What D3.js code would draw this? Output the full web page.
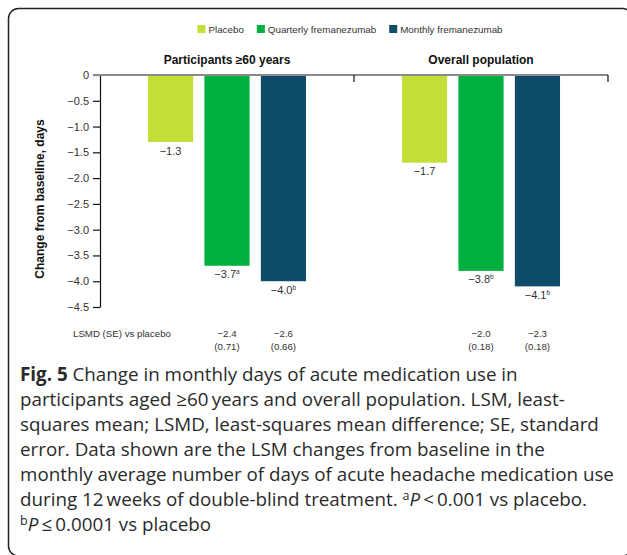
<!DOCTYPE html>
<html>
<head>
<meta charset="utf-8">
<script src="https://cdn.jsdelivr.net/npm/d3@7"></script>
<style>
  body { margin: 0; background: #fff; }
  svg { display: block; }
</style>
</head>
<body>
<svg id="chart" width="627" height="555"></svg>
<script>
// data
const groups = ["Participants \u226560 years", "Overall population"];
const series = ["Placebo", "Quarterly fremanezumab", "Monthly fremanezumab"];
const colors = ["#c3de36", "#00b03f", "#0e4c6a"];
const values = [
  [-1.3, -3.7, -4.0],
  [-1.7, -3.8, -4.1]
];
const sigMarks = [
  ["", "a", "b"],
  ["", "b", "b"]
];
const lsmdValues = [
  [null, -2.4, -2.6],
  [null, -2.0, -2.3]
];
const lsmdSE = [
  [null, 0.71, 0.66],
  [null, 0.18, 0.18]
];
const yTicks = [0, -0.5, -1.0, -1.5, -2.0, -2.5, -3.0, -3.5, -4.0, -4.5];

const svg = d3.select("#chart");
const axisFont = "Liberation Sans, Arial, sans-serif";
const capFont = "Open Sans, sans-serif";
const textColor = "#333";

const plotLeft = 100, plotRight = 608, plotTop = 75, plotBottom = 307;

const x0 = d3.scaleBand().domain(groups).range([plotLeft, plotRight]);
const x1 = d3.scaleBand().domain(series).range([0, x0.bandwidth()])
  .paddingInner(0.2).paddingOuter(0.85);
const y = d3.scaleLinear().domain([0, -4.5]).range([plotTop, plotBottom]);

const fmt = d3.format(".1f");

// frame
svg.append("rect")
  .attr("x", 8.5).attr("y", 8.5)
  .attr("width", 624).attr("height", 547.5)
  .attr("rx", 10)
  .attr("fill", "none")
  .attr("stroke", "#222")
  .attr("stroke-width", 1.5);

// legend
const legend = svg.append("g").attr("font-family", axisFont).attr("font-size", "9.8px");
let lx = 0;
series.forEach((s, i) => {
  const g = legend.append("g");
  g.append("rect").attr("width", 8).attr("height", 8).attr("y", -7.5).attr("fill", colors[i]);
  const t = g.append("text").attr("x", 11).attr("fill", textColor).text(s);
  const w = 11 + t.node().getComputedTextLength();
  g.attr("transform", `translate(${lx},0)`);
  lx += w + 13;
});
legend.attr("transform", `translate(${350 - (lx - 13) / 2},32.5)`);

// panel titles
svg.selectAll(".ptitle")
  .data(groups)
  .join("text")
  .attr("class", "ptitle")
  .attr("x", d => x0(d) + x0.bandwidth() / 2)
  .attr("y", 64)
  .attr("text-anchor", "middle")
  .attr("font-family", axisFont)
  .attr("font-weight", "bold")
  .attr("font-size", "12px")
  .attr("fill", "#111")
  .text(d => d);

// bars
const gGroups = svg.selectAll(".grp")
  .data(groups)
  .join("g")
  .attr("class", "grp")
  .attr("transform", d => `translate(${x0(d)},0)`);

gGroups.selectAll("rect")
  .data((g, gi) => series.map((s, si) => ({ s, si, v: values[gi][si] })))
  .join("rect")
  .attr("x", d => x1(d.s))
  .attr("y", y(0))
  .attr("width", x1.bandwidth())
  .attr("height", d => y(d.v) - y(0))
  .attr("fill", d => colors[d.si]);

// value labels
const vLabels = gGroups.selectAll(".val")
  .data((g, gi) => series.map((s, si) => ({ s, v: values[gi][si], m: sigMarks[gi][si] })))
  .join("text")
  .attr("class", "val")
  .attr("x", d => x1(d.s) + x1.bandwidth() / 2)
  .attr("y", d => y(d.v) + 12.5)
  .attr("text-anchor", "middle")
  .attr("font-family", axisFont)
  .attr("font-size", "11px")
  .attr("fill", textColor);
vLabels.append("tspan").text(d => fmt(d.v));
vLabels.filter(d => d.m).append("tspan")
  .attr("font-size", "6.5px")
  .attr("dy", -4)
  .text(d => d.m);

// LSMD row
svg.append("text")
  .attr("x", 73).attr("y", 337)
  .attr("font-family", axisFont)
  .attr("font-size", "9.7px")
  .attr("fill", textColor)
  .text("LSMD (SE) vs placebo");

const lsmdRows = gGroups.selectAll(".lsmd")
  .data((g, gi) => series.map((s, si) => ({ s, v: lsmdValues[gi][si], se: lsmdSE[gi][si] }))
    .filter(d => d.v !== null))
  .join("text")
  .attr("class", "lsmd")
  .attr("text-anchor", "middle")
  .attr("font-family", axisFont)
  .attr("font-size", "9.7px")
  .attr("fill", textColor);
lsmdRows.append("tspan")
  .attr("x", d => x1(d.s) + x1.bandwidth() / 2)
  .attr("y", 337)
  .text(d => fmt(d.v));
lsmdRows.append("tspan")
  .attr("x", d => x1(d.s) + x1.bandwidth() / 2)
  .attr("y", 350)
  .text(d => `(${d.se.toFixed(2)})`);

// y axis
const yAxis = svg.append("g")
  .attr("transform", `translate(${plotLeft},0)`)
  .call(d3.axisLeft(y).tickValues(yTicks).tickSize(7).tickSizeOuter(0).tickPadding(4)
    .tickFormat(d => d === 0 ? "0" : fmt(d)));
yAxis.select(".domain").attr("stroke", "#111").attr("stroke-width", 1.2);
yAxis.selectAll(".tick line").attr("stroke", "#111").attr("stroke-width", 1.2);
yAxis.selectAll(".tick text")
  .attr("font-family", axisFont)
  .attr("font-size", "11px")
  .attr("fill", textColor);

// top category axis (gray zero line with group boundary ticks)
svg.append("line")
  .attr("x1", plotLeft - 7).attr("x2", plotRight)
  .attr("y1", plotTop).attr("y2", plotTop)
  .attr("stroke", "#8a8a8a")
  .attr("stroke-width", 2);
svg.selectAll(".gtick")
  .data(groups)
  .join("line")
  .attr("class", "gtick")
  .attr("x1", d => x0(d) + x0.bandwidth()).attr("x2", d => x0(d) + x0.bandwidth())
  .attr("y1", plotTop).attr("y2", plotTop + 7)
  .attr("stroke", "#111")
  .attr("stroke-width", 1.2);

// y axis title
svg.append("text")
  .attr("transform", "translate(44,199) rotate(-90)")
  .attr("text-anchor", "middle")
  .attr("font-family", axisFont)
  .attr("font-weight", "bold")
  .attr("font-size", "12px")
  .attr("fill", "#111")
  .text("Change from baseline, days");

// caption
const capLines = [
  [{ t: "Fig. 5", b: true }, { t: " Change in monthly days of acute medication use in" }],
  [{ t: "participants aged \u226560\u2009years and overall population. LSM, least-" }],
  [{ t: "squares mean; LSMD, least-squares mean difference; SE, standard" }],
  [{ t: "error. Data shown are the LSM changes from baseline in the" }],
  [{ t: "monthly average number of days of acute headache medication use" }],
  [{ t: "during 12\u2009weeks of double-blind treatment. " }, { t: "a", sup: true }, { t: "P", i: true }, { t: "\u2009<\u20090.001 vs placebo." }],
  [{ t: "b", sup: true }, { t: "P", i: true }, { t: "\u2009\u2264\u20090.0001 vs placebo" }]
];
const caption = svg.append("g")
  .attr("font-family", capFont)
  .attr("font-size", "18.8px")
  .attr("fill", "#2a2a2a");
capLines.forEach((line, li) => {
  const t = caption.append("text").attr("x", 20).attr("y", 381 + li * 25);
  line.forEach(p => {
    const sp = t.append("tspan").text(p.t);
    if (p.b) sp.attr("font-weight", "bold");
    if (p.i) sp.attr("font-style", "italic");
    if (p.sup) sp.attr("font-size", "12.5px").attr("baseline-shift", "6px");
  });
});
</script>
</body>
</html>
